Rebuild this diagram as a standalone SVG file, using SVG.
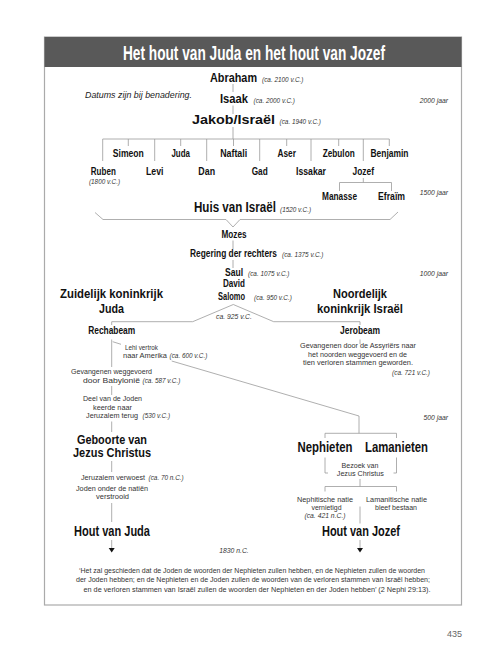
<svg xmlns="http://www.w3.org/2000/svg" width="500" height="649" viewBox="0 0 500 649">
<style>
text{font-family:"Liberation Sans Narrow","Liberation Sans",Arial,sans-serif}
.b{font-weight:bold;fill:#111}
.f9{font-size:10px}
.f13{font-size:13.5px}
.f14{font-size:14.5px}
.s{font-size:7.6px;fill:#333}
.i{font-size:6.4px;font-style:italic;font-weight:normal;fill:#333}
.j{font-size:6.8px;font-style:italic;fill:#333}
.m{text-anchor:middle}
.ln{stroke:#9a9a9a;stroke-width:0.8;fill:none}
</style>
<rect x="44.5" y="37" width="417" height="568" fill="#fff" stroke="#aaa" stroke-width="1.2"/>
<rect x="44.5" y="37" width="417" height="30" fill="#595959"/>
<text x="254" y="59.5" class="m" font-size="19.5" font-weight="bold" fill="#fff" textLength="262" lengthAdjust="spacingAndGlyphs">Het hout van Juda en het hout van Jozef</text>

<g id="connectors">
<path class="ln" d="M233,84 V92 M233,105.5 V114 M233,127 V139"/>
<path class="ln" d="M102.7,161 V139 H389.3 V146 M128.3,139 V146 M154.7,139 V161 M180.7,139 V146 M206.7,139 V161 M233.5,139 V146 M259.7,139 V161 M286.7,139 V146 M311,139 V161 M338.7,139 V146 M363.3,139 V161"/>
<path class="ln" d="M363.3,178 V182.5 M339.5,191 V182.5 H391.5 V191"/>
<path class="ln" d="M95,212.5 L103,219.5 H226 L233,227 L240,219.5 H390 L398,212"/>
<path class="ln" d="M233,240.5 V249 M233,260 V268"/>
<path class="ln" d="M111.7,325 V321.7 H192.7 L233.3,304.5 L273.7,321.7 H360 V325"/>
<path class="ln" d="M111.7,339.5 V367 M112.7,341.7 L121,344.3"/>
<path class="ln" d="M171.7,361 L359,416 V433.3"/>
<path class="ln" d="M111.7,386 V395 M111.7,421.5 V432 M111.7,461 V472 M111.7,503 V522 M111.7,540 V548"/>
<path d="M108.7,548 H114.7 L111.7,552.5 Z" fill="#111"/>
<path class="ln" d="M360,339.5 V344"/>
<path class="ln" d="M325,438 V433.3 H396.5 V438"/>
<path class="ln" d="M328,473 H325 V457.5 M393.5,473 H396.5 V457.5"/>
<path class="ln" d="M360,479 V486.5 M325,491.5 V486.5 H396.5 V491.5 M360,506.5 V523.5 M360,540 V548"/>
<path d="M357,548 H363 L360,552.5 Z" fill="#111"/>
</g>

<g id="abraham"><text transform="translate(210,81.5) scale(0.835,1)" class="b" font-size="13">Abraham</text><text x="262" y="81.5" class="i">(ca. 2100 v.C.)</text></g>
<g id="note"><text x="85" y="98" font-size="8.6" font-style="italic" fill="#222" textLength="107" lengthAdjust="spacingAndGlyphs">Datums zijn bij benadering.</text></g>
<g id="isaak"><text x="220" y="102.7"><tspan class="b" font-size="13" textLength="28" lengthAdjust="spacingAndGlyphs">Isaak</tspan><tspan x="253.5" class="i">(ca. 2000 v.C.)</tspan></text></g>
<g id="y2000"><text x="448" y="102.7" class="j" text-anchor="end">2000 jaar</text></g>
<g id="jakob"><text x="192" y="124"><tspan class="b" font-size="13" textLength="83" lengthAdjust="spacingAndGlyphs">Jakob/Israël</tspan><tspan x="279.5" class="i">(ca. 1940 v.C.)</tspan></text></g>

<g id="simeon"><text x="128.3" y="157" class="b f9 m" textLength="31" lengthAdjust="spacingAndGlyphs">Simeon</text></g>
<g id="juda-stam"><text x="180.7" y="157" class="b f9 m" textLength="18.5" lengthAdjust="spacingAndGlyphs">Juda</text></g>
<g id="naftali"><text x="233.7" y="157" class="b f9 m" textLength="27" lengthAdjust="spacingAndGlyphs">Naftali</text></g>
<g id="aser"><text x="286.7" y="157" class="b f9 m" textLength="18.5" lengthAdjust="spacingAndGlyphs">Aser</text></g>
<g id="zebulon"><text x="338.7" y="157" class="b f9 m" textLength="32" lengthAdjust="spacingAndGlyphs">Zebulon</text></g>
<g id="benjamin"><text x="389.5" y="157" class="b f9 m" textLength="38" lengthAdjust="spacingAndGlyphs">Benjamin</text></g>
<g id="ruben"><text x="103.3" y="175" class="b f9 m" textLength="25" lengthAdjust="spacingAndGlyphs">Ruben</text><text x="104.5" y="184" class="i m">(1800 v.C.)</text></g>
<g id="levi"><text x="154.7" y="175" class="b f9 m" textLength="17.5" lengthAdjust="spacingAndGlyphs">Levi</text></g>
<g id="dan"><text x="206.7" y="175" class="b f9 m" textLength="16.7" lengthAdjust="spacingAndGlyphs">Dan</text></g>
<g id="gad"><text x="259.7" y="175" class="b f9 m" textLength="16" lengthAdjust="spacingAndGlyphs">Gad</text></g>
<g id="issakar"><text x="311" y="175" class="b f9 m" textLength="30" lengthAdjust="spacingAndGlyphs">Issakar</text></g>
<g id="jozef"><text x="363.3" y="175" class="b f9 m" textLength="21.5" lengthAdjust="spacingAndGlyphs">Jozef</text></g>
<g id="manasse"><text x="339.5" y="200" class="b f9 m" textLength="35" lengthAdjust="spacingAndGlyphs">Manasse</text></g>
<g id="efraim"><text x="391.5" y="200" class="b f9 m" textLength="27" lengthAdjust="spacingAndGlyphs">Efraïm</text></g>
<g id="y1500"><text x="448" y="195" class="j" text-anchor="end">1500 jaar</text></g>
<g id="huis"><text transform="translate(194,211.7) scale(0.80,1)" class="b f14">Huis van Israël</text><text x="280" y="211.7" class="i">(1520 v.C.)</text></g>

<g id="mozes"><text x="234" y="237.5" class="b f9 m" textLength="25" lengthAdjust="spacingAndGlyphs">Mozes</text></g>
<g id="rechters"><text transform="translate(190,256.5) scale(0.837,1)" class="b f9">Regering der rechters</text><text x="282" y="256.5" class="i">(ca. 1375 v.C.)</text></g>
<g id="saul"><text x="225" y="275.5"><tspan class="b f9" textLength="18" lengthAdjust="spacingAndGlyphs">Saul</tspan><tspan x="248" class="i">(ca. 1075 v.C.)</tspan></text></g>
<g id="y1000"><text x="448" y="275.5" class="j" text-anchor="end">1000 jaar</text></g>
<g id="david"><text x="223" y="287.3" class="b f9" textLength="22" lengthAdjust="spacingAndGlyphs">David</text></g>
<g id="salomo"><text x="218" y="299.8"><tspan class="b f9" textLength="27" lengthAdjust="spacingAndGlyphs">Salomo</tspan><tspan x="254" class="i">(ca. 950 v.C.)</tspan></text></g>
<g id="zuid"><text x="111.5" y="298.3" class="b f13 m" textLength="103" lengthAdjust="spacingAndGlyphs">Zuidelijk koninkrijk</text><text x="111.5" y="313.3" class="b f13 m" textLength="25" lengthAdjust="spacingAndGlyphs">Juda</text></g>
<g id="noord"><text x="360" y="298.3" class="b f13 m" textLength="54" lengthAdjust="spacingAndGlyphs">Noordelijk</text><text x="360" y="313.3" class="b f13 m" textLength="86" lengthAdjust="spacingAndGlyphs">koninkrijk Israël</text></g>
<g id="split-date"><text x="234" y="319.3" class="j m">ca. 925 v.C.</text></g>

<g id="rechabeam"><text x="111.7" y="333.5" class="b f9 m" textLength="47" lengthAdjust="spacingAndGlyphs">Rechabeam</text></g>
<g id="jerobeam"><text x="360" y="333.5" class="b f9 m" textLength="40" lengthAdjust="spacingAndGlyphs">Jerobeam</text></g>
<g id="lehi"><text x="125" y="350" class="s" textLength="33" lengthAdjust="spacingAndGlyphs">Lehi vertrok</text><text x="123" y="358.3"><tspan class="s" textLength="44" lengthAdjust="spacingAndGlyphs">naar Amerika</tspan><tspan x="169.5" class="i">(ca. 600 v.C.)</tspan></text></g>
<g id="assyrie"><text x="358" y="348.3" class="s m" textLength="116" lengthAdjust="spacingAndGlyphs">Gevangenen door de Assyriërs naar</text><text x="357.5" y="356.7" class="s m" textLength="99" lengthAdjust="spacingAndGlyphs">het noorden weggevoerd en de</text><text x="358" y="365" class="s m" textLength="110" lengthAdjust="spacingAndGlyphs">tien verloren stammen geworden.</text><text x="430" y="375" class="i" text-anchor="end">(ca. 721 v.C.)</text></g>
<g id="babylonie"><text x="111.5" y="374" class="s m" textLength="81" lengthAdjust="spacingAndGlyphs">Gevangenen weggevoerd</text><text x="83" y="382.7"><tspan class="s" textLength="57" lengthAdjust="spacingAndGlyphs">door Babylonië</tspan><tspan x="142.5" class="i">(ca. 587 v.C.)</tspan></text></g>
<g id="terug"><text x="112.5" y="401.3" class="s m" textLength="59" lengthAdjust="spacingAndGlyphs">Deel van de Joden</text><text x="112.5" y="409.6" class="s m" textLength="39" lengthAdjust="spacingAndGlyphs">keerde naar</text><text x="86" y="418"><tspan class="s" textLength="52" lengthAdjust="spacingAndGlyphs">Jeruzalem terug</tspan><tspan x="142.5" class="i">(530 v.C.)</tspan></text></g>
<g id="y500"><text x="448" y="419.5" class="j" text-anchor="end">500 jaar</text></g>
<g id="geboorte"><text x="112" y="443.5" class="b f13 m" textLength="70" lengthAdjust="spacingAndGlyphs">Geboorte van</text><text x="112" y="457" class="b f13 m" textLength="78" lengthAdjust="spacingAndGlyphs">Jezus Christus</text></g>
<g id="verwoest"><text x="81" y="480"><tspan class="s" textLength="64" lengthAdjust="spacingAndGlyphs">Jeruzalem verwoest</tspan><tspan x="148.5" class="i">(ca. 70 n.C.)</tspan></text></g>
<g id="verstrooid"><text x="112" y="490.7" class="s m" textLength="72" lengthAdjust="spacingAndGlyphs">Joden onder de natiën</text><text x="112.5" y="498.5" class="s m" textLength="33" lengthAdjust="spacingAndGlyphs">verstrooid</text></g>
<g id="hout-juda"><text x="112" y="536" class="b f14 m" textLength="76" lengthAdjust="spacingAndGlyphs">Hout van Juda</text></g>
<g id="y1830"><text x="234" y="552.7" class="j m">1830 n.C.</text></g>

<g id="nephieten"><text x="325" y="452.3" class="b f14 m" textLength="55" lengthAdjust="spacingAndGlyphs">Nephieten</text></g>
<g id="lamanieten"><text x="396.5" y="452.3" class="b f14 m" textLength="63" lengthAdjust="spacingAndGlyphs">Lamanieten</text></g>
<g id="bezoek"><text x="360" y="468.3" class="s m" textLength="37" lengthAdjust="spacingAndGlyphs">Bezoek van</text><text x="360.3" y="476.3" class="s m" textLength="47" lengthAdjust="spacingAndGlyphs">Jezus Christus</text></g>
<g id="nephitische"><text x="325" y="501.7" class="s m" textLength="56" lengthAdjust="spacingAndGlyphs">Nephitische natie</text><text x="326.5" y="510" class="s m" textLength="30" lengthAdjust="spacingAndGlyphs">vernietigd</text><text x="325" y="518.3" class="j m">(ca. 421 n.C.)</text></g>
<g id="lamanitische"><text x="396.5" y="501.7" class="s m" textLength="61" lengthAdjust="spacingAndGlyphs">Lamanitische natie</text><text x="396" y="510" class="s m" textLength="42" lengthAdjust="spacingAndGlyphs">bleef bestaan</text></g>
<g id="hout-jozef"><text x="361" y="536" class="b f14 m" textLength="78" lengthAdjust="spacingAndGlyphs">Hout van Jozef</text></g>

<g id="quote">
<text x="252" y="572.5" class="s m" textLength="346" lengthAdjust="spacingAndGlyphs">‘Het zal geschieden dat de Joden de woorden der Nephieten zullen hebben, en de Nephieten zullen de woorden</text>
<text x="253" y="582.3" class="s m" textLength="354" lengthAdjust="spacingAndGlyphs">der Joden hebben; en de Nephieten en de Joden zullen de woorden van de verloren stammen van Israël hebben;</text>
<text x="257" y="592" class="s m" textLength="347" lengthAdjust="spacingAndGlyphs">en de verloren stammen van Israël zullen de woorden der Nephieten en der Joden hebben’ (2 Nephi 29:13).</text>
</g>
<text x="462" y="637" font-family="Liberation Serif,serif" font-size="9" fill="#666" text-anchor="end">435</text>
</svg>
